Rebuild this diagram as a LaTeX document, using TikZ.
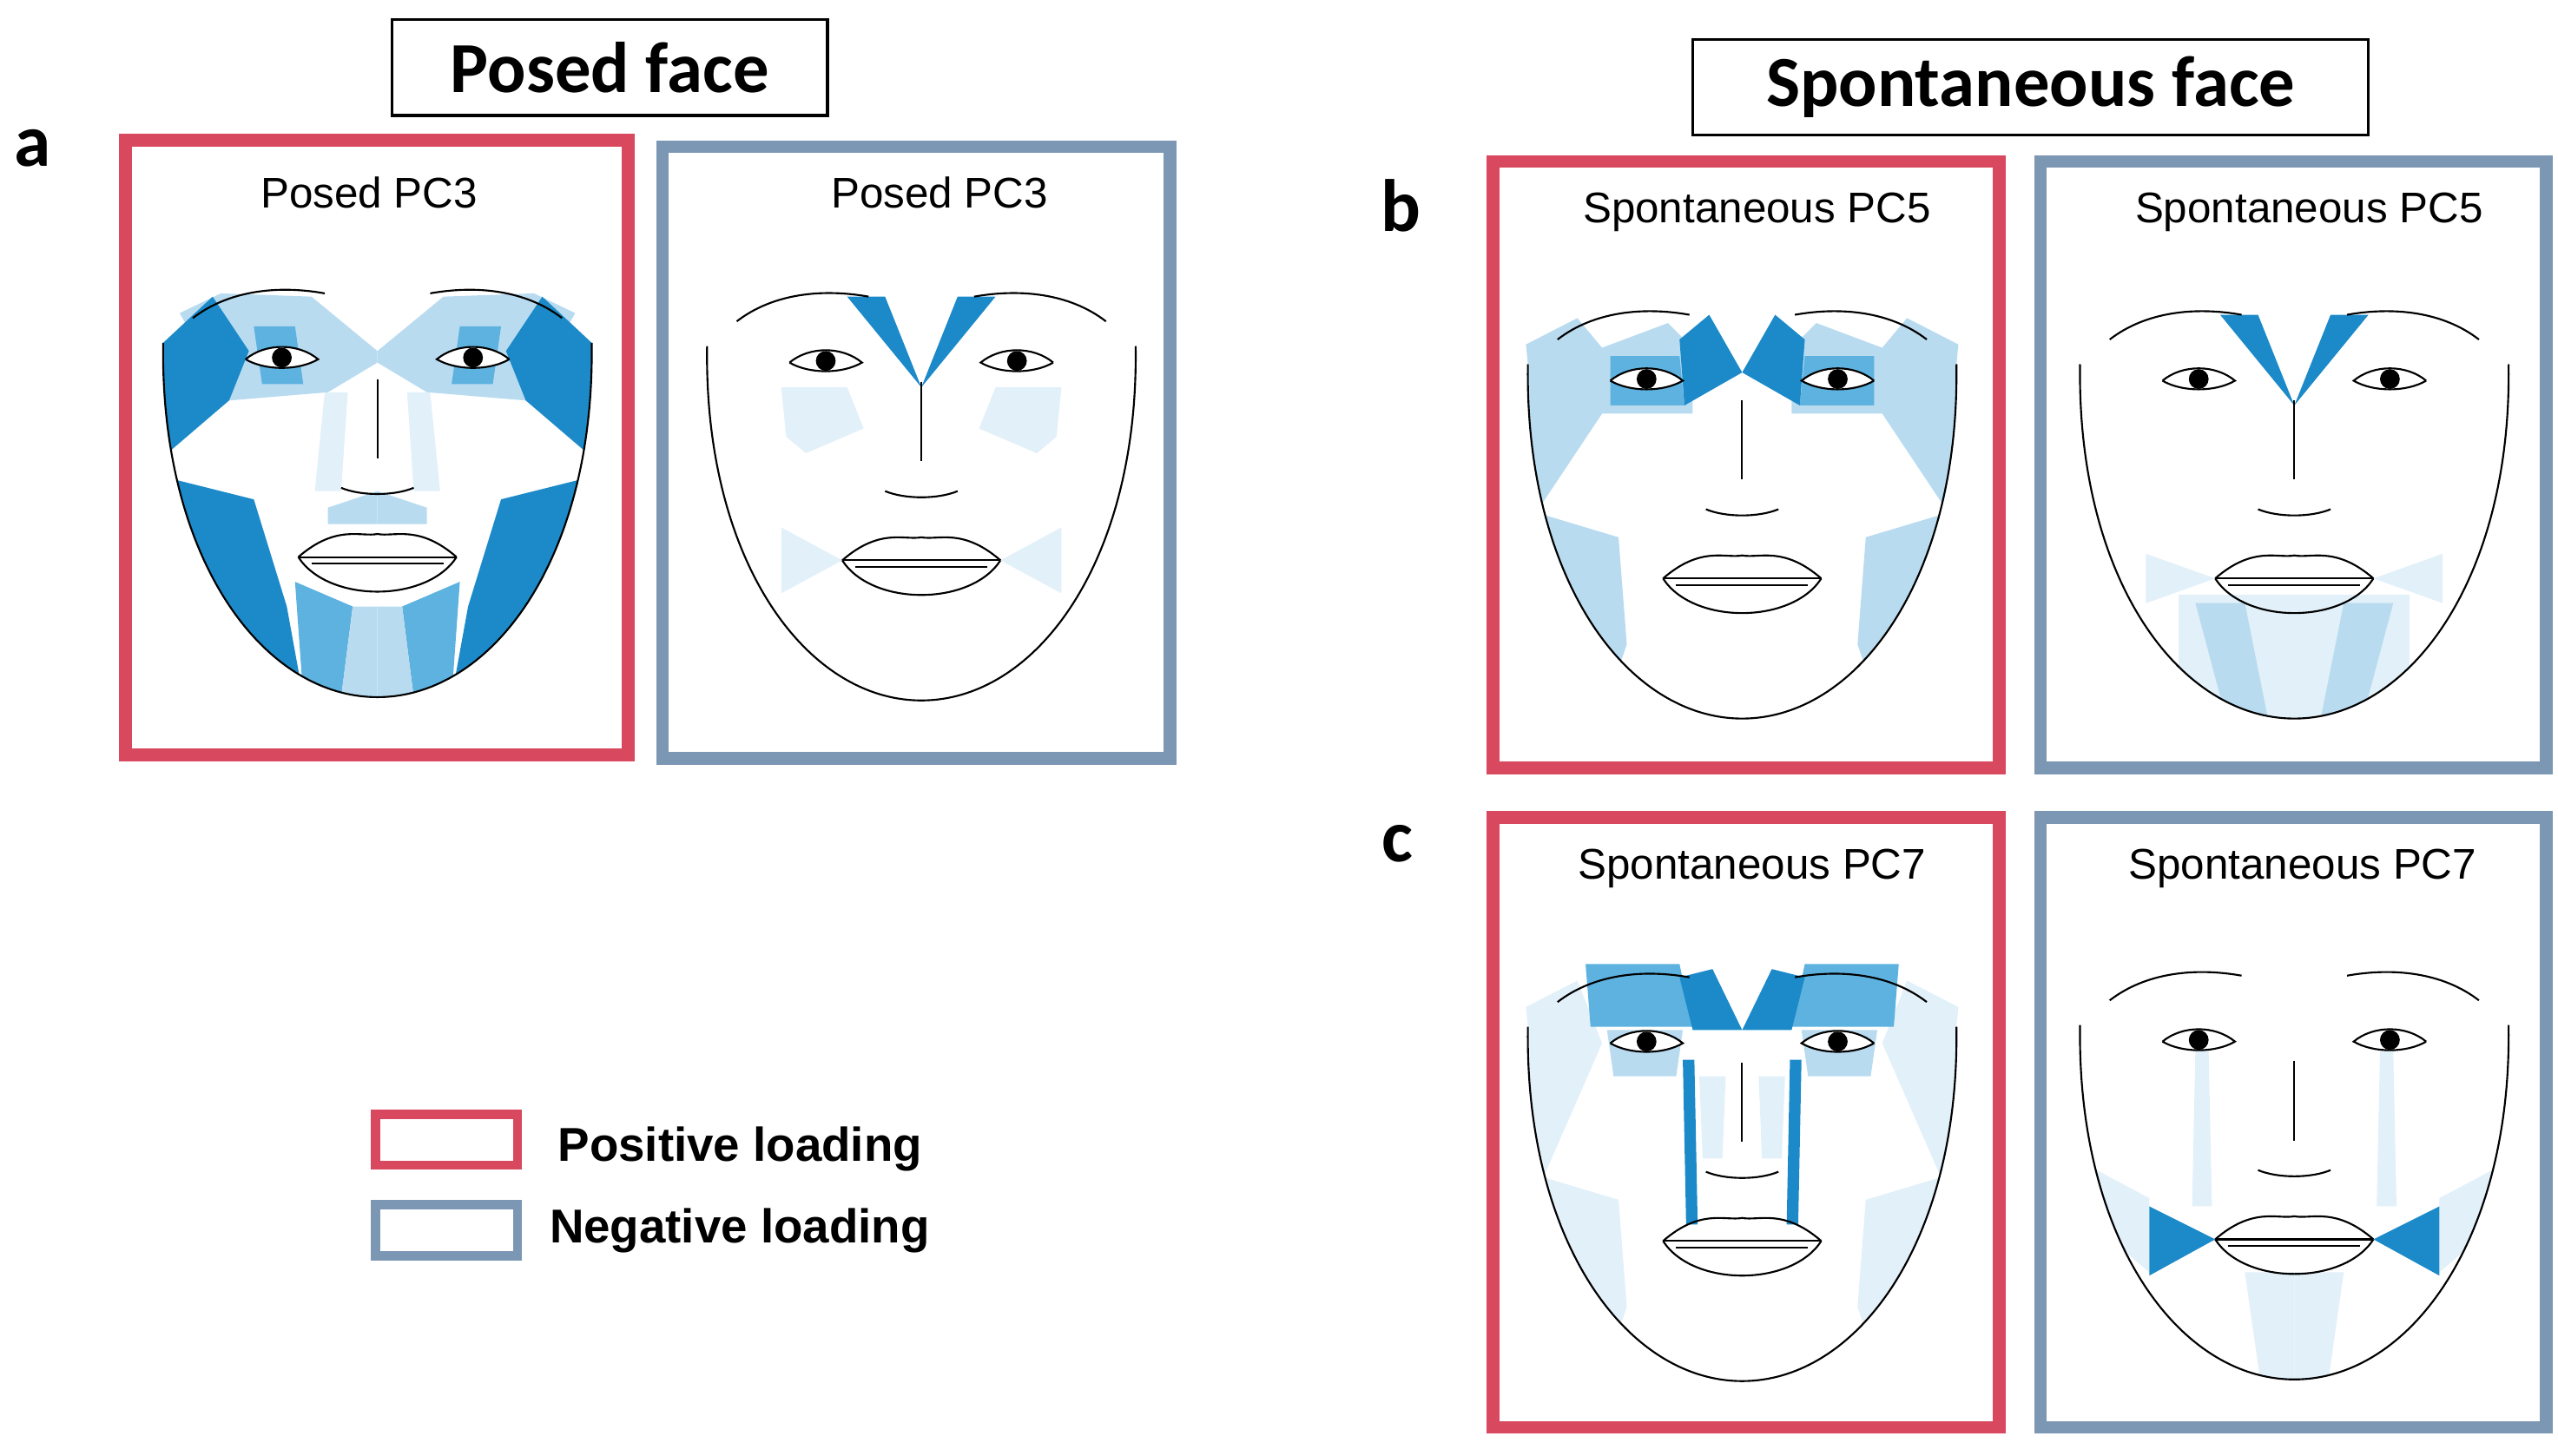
\documentclass[tikz,border=0pt]{standalone}
\usepackage{fontspec}
\setmainfont{Liberation Sans}
\newfontfamily\carl{Carlito}
\definecolor{posc}{HTML}{D8485F}
\definecolor{negc}{HTML}{7C97B4}
\definecolor{bd}{HTML}{1C8AC9}
\definecolor{bm}{HTML}{5DB2DF}
\definecolor{bl}{HTML}{B9DBF0}
\definecolor{bv}{HTML}{E2F0F9}
\newcommand\faceclip{\clip (-134,-50) -- (134,-50) -- (130,-10) .. controls (132,120) and (70,205) .. (0,205) .. controls (-70,205) and (-132,120) .. (-130,-10) -- cycle;}
\newcommand\facelines{%
 \draw[fl] (-112,-25) .. controls (-90,-42) and (-60,-45) .. (-32,-40);
 \draw[fl] (112,-25) .. controls (90,-42) and (60,-45) .. (32,-40);
 \foreach \s in {-1,1}{
 \draw[fl,fill=white] (\s*80,0) .. controls (\s*68,-10) and (\s*48,-10) .. (\s*36,0) .. controls (\s*48,7) and (\s*68,7) .. (\s*80,0);
 \fill (\s*58,-1) circle (6);}
 \draw[fl] (0,12) -- (0,60);
 \draw[fl] (-22,78) .. controls (-10,83) and (10,83) .. (22,78);
 \draw[fl] (-48,120) .. controls (-25,100) and (-10,108) .. (0,106) .. controls (10,108) and (25,100) .. (48,120);
 \draw[fl] (-48,120) -- (48,120);
 \draw[fl] (-40,124) -- (40,124);
 \draw[fl] (-48,120) .. controls (-30,148) and (30,148) .. (48,120);
 \draw[fl] (-130,-10) .. controls (-132,120) and (-70,205) .. (0,205) .. controls (70,205) and (132,120) .. (130,-10);}
\newcommand\sym[2]{\fill[#1] #2; \begin{scope}[xscale=-1]\fill[#1] #2;\end{scope}}
\begin{document}
\begin{tikzpicture}[x=0.05cm,y=-0.05cm,
 fl/.style={line width=1.6pt,black},
 fr/.style={line width=11pt},
 ttl/.style={font=\fontsize{37}{42}\selectfont},
 hdr/.style={draw,line width=2.5pt,font=\carl\bfseries\fontsize{62}{70}\selectfont,minimum height=58*0.05cm},
 lab/.style={font=\carl\bfseries\fontsize{64}{70}\selectfont},
 leg/.style={font=\bfseries\fontsize{41}{46}\selectfont,anchor=west}]
\useasboundingbox (0,0) rectangle (1552,883);
% headers
\node[hdr,minimum width=264*0.05cm] (h1) at (370,41) {Posed face};
\node[hdr,minimum width=410*0.05cm] (h2) at (1232,53) {Spontaneous face};
\node[lab] (la) at (20,90) {a};
\node[lab] (lb) at (850,125) {b};
\node[lab] (lc) at (848,512) {c};
% frames
\draw[fr,posc] (76,85) rectangle (381,458);
\draw[fr,negc] (402,89) rectangle (710,460);
\draw[fr,posc] (906,98) rectangle (1213,466);
\draw[fr,negc] (1238,98) rectangle (1545,466);
\draw[fr,posc] (906,496) rectangle (1213,866);
\draw[fr,negc] (1238,496) rectangle (1545,866);
\node[ttl] (t1) at (224,117) {Posed PC3};
\node[ttl] (t2) at (570,117) {Posed PC3};
\node[ttl] (t3) at (1066,129) {Spontaneous PC5};
\node[ttl] (t4) at (1401,129) {Spontaneous PC5};
\node[ttl] (t5) at (1063,527) {Spontaneous PC7};
\node[ttl] (t6) at (1397,527) {Spontaneous PC7};
% a positive
\begin{scope}[shift={(229,218)}]
 \begin{scope}\faceclip
 \sym{bl}{(-120,-28)--(-95,-40)--(-40,-38)--(0,-5)--(0,2)--(-30,20)--(-90,25)--cycle}
 \sym{bv}{(-32,20)--(-18,20)--(-22,80)--(-38,80)--cycle}
 \sym{bd}{(-130,-10)--(-100,-38)--(-78,-5)--(-90,25)--(-125,55)--(-132,20)--cycle}
 \sym{bd}{(-135,70)--(-75,85)--(-55,150)--(-45,205)--(-85,200)--(-135,130)--cycle}
 \sym{bm}{(-50,135)--(-15,150)--(-22,205)--(-45,205)--cycle}
 \sym{bl}{(-15,150)--(0,150)--(0,205)--(-22,205)--cycle}
 \sym{bl}{(-30,90)--(0,80)--(0,100)--(-30,100)--cycle}
 \sym{bm}{(-50,-20)--(-75,-20)--(-70,15)--(-45,15)--cycle}
 \end{scope}
 \facelines
\end{scope}
% a negative
\begin{scope}[shift={(559,220)}]
 \sym{bd}{(-45,-40)--(-22,-40)--(0,15)--cycle}
 \sym{bv}{(-85,15)--(-45,15)--(-35,40)--(-70,55)--(-82,45)--cycle}
 \sym{bv}{(-85,100)--(-48,120)--(-85,140)--cycle}
 \facelines
\end{scope}
% b positive
\begin{scope}[shift={(1057,231)}]
 \begin{scope}\faceclip
 \sym{bl}{(-135,-20)--(-100,-38)--(-85,-20)--(-85,20)--(-125,80)--(-135,30)--cycle}
 \sym{bl}{(-85,-20)--(-45,-35)--(-30,-20)--(-30,20)--(-85,20)--cycle}
 \sym{bl}{(-125,80)--(-75,95)--(-70,160)--(-82,195)--(-125,140)--cycle}
 \sym{bm}{(-80,-15)--(-38,-15)--(-35,15)--(-80,15)--cycle}
 \sym{bd}{(-38,-25)--(-20,-40)--(0,-5)--(-35,15)--cycle}
 \end{scope}
 \facelines
\end{scope}
% b negative
\begin{scope}[shift={(1392,231)}]
 \begin{scope}\faceclip
 \sym{bd}{(-45,-40)--(-22,-40)--(0,15)--cycle}
 \sym{bv}{(-70,130)--(0,130)--(0,210)--(-70,210)--cycle}
 \sym{bl}{(-60,135)--(-30,135)--(-15,210)--(-40,210)--cycle}
 \sym{bv}{(-90,105)--(-48,120)--(-90,135)--cycle}
 \end{scope}
 \facelines
\end{scope}
% c positive
\begin{scope}[shift={(1057,633)}]
 \begin{scope}\faceclip
 \sym{bv}{(-135,-20)--(-100,-38)--(-85,0)--(-120,80)--(-135,30)--cycle}
 \sym{bv}{(-125,80)--(-75,95)--(-70,160)--(-82,195)--(-125,140)--cycle}
 \sym{bm}{(-95,-48)--(-38,-48)--(-30,-10)--(-92,-10)--cycle}
 \sym{bl}{(-82,-8)--(-36,-8)--(-40,20)--(-78,20)--cycle}
 \sym{bd}{(-38,-40)--(-18,-45)--(0,-8)--(-30,-8)--cycle}
 \sym{bd}{(-36,10)--(-29,10)--(-27,110)--(-34,110)--cycle}
 \sym{bv}{(-26,20)--(-10,20)--(-12,70)--(-24,70)--cycle}
 \end{scope}
 \facelines
\end{scope}
% c negative
\begin{scope}[shift={(1392,632)}]
 \begin{scope}\faceclip
 \sym{bv}{(-60,5)--(-52,5)--(-50,100)--(-62,100)--cycle}
 \sym{bv}{(-135,70)--(-88,95)--(-88,140)--(-135,100)--cycle}
 \sym{bv}{(-30,140)--(0,140)--(0,210)--(-20,210)--cycle}
 \sym{bd}{(-88,100)--(-48,120)--(-88,142)--cycle}
 \end{scope}
 \facelines
\end{scope}
% legend
\draw[line width=8pt,posc] (228,676) rectangle (314,707);
\draw[line width=8pt,negc] (228,731) rectangle (314,762);
\node[leg] (l1) at (336,697) {Positive loading};
\node[leg] (l2) at (331,747) {Negative loading};
\end{tikzpicture}
\end{document}
